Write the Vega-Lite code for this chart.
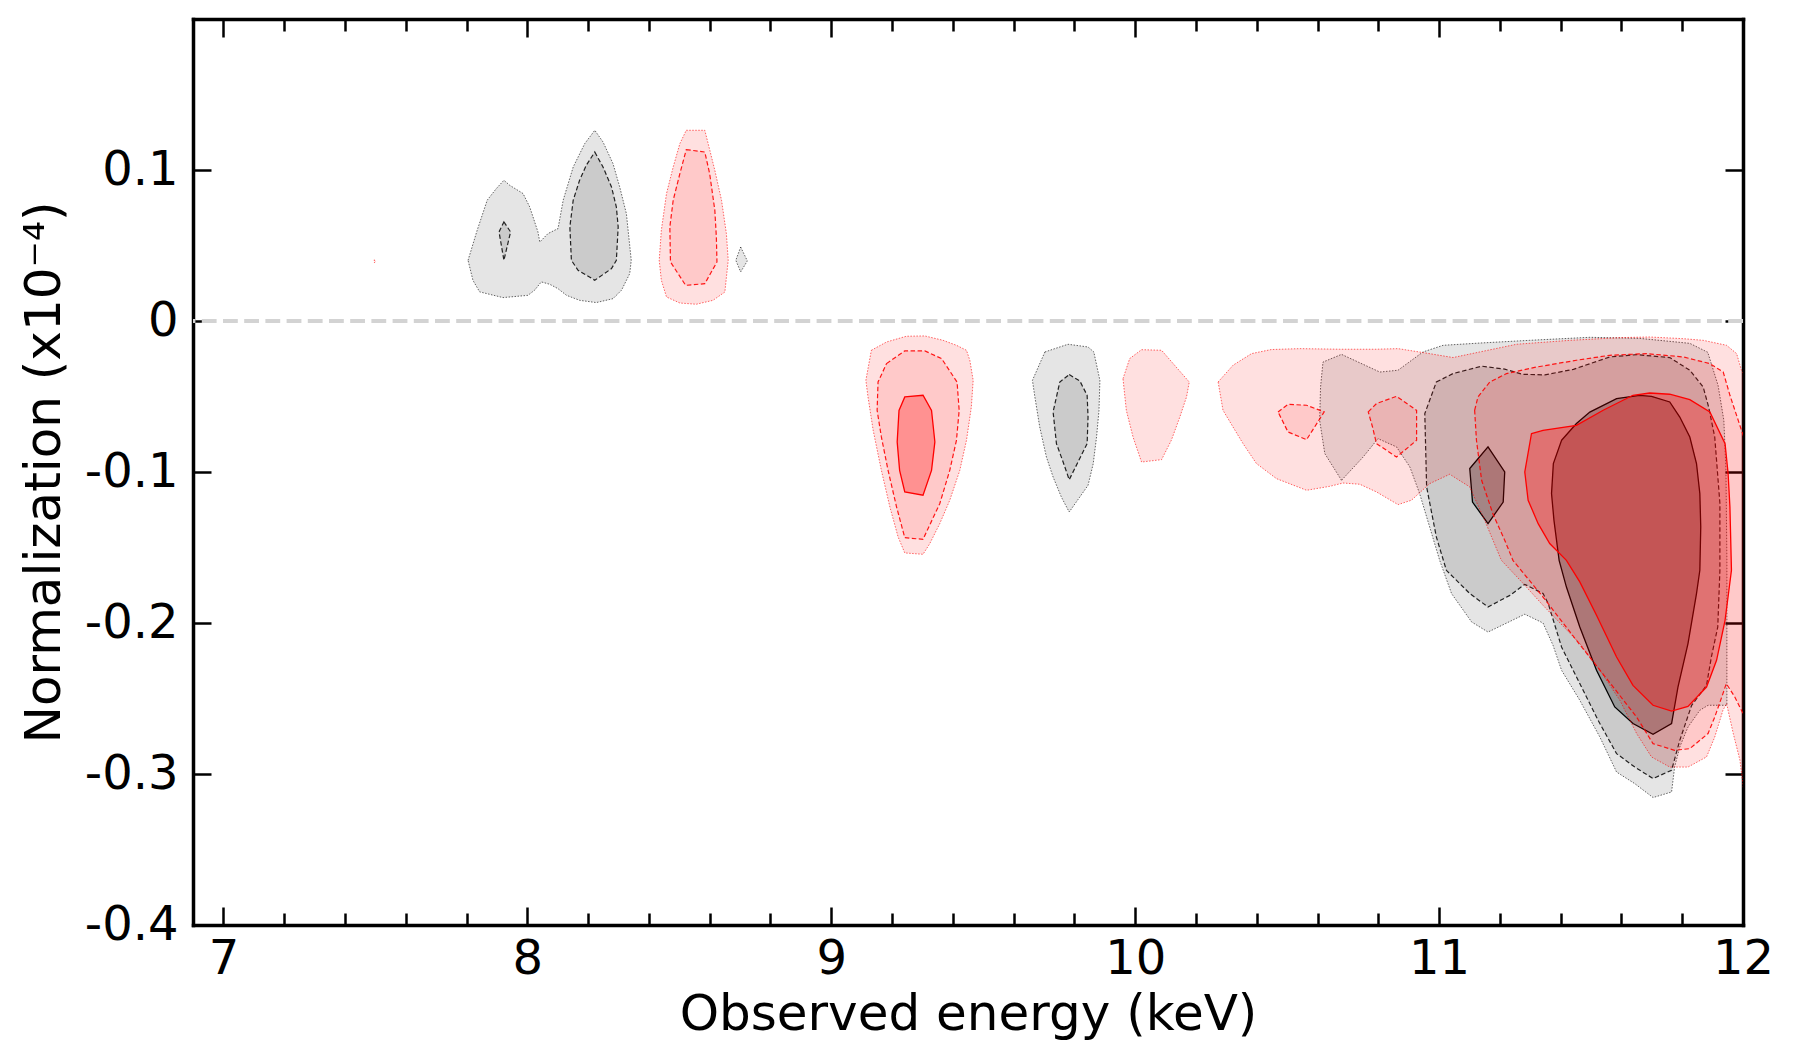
{
"$schema": "https://vega.github.io/schema/vega-lite/v6.json",
"width": 1550, "height": 906,
"autosize": {"type": "none"},
"padding": {"left": 193, "top": 19, "right": 52, "bottom": 137},
"background": "white",
"config": {
  "view": {"stroke": null},
  "font": "DejaVu Sans",
  "axis": {"labelFont": "DejaVu Sans", "titleFont": "DejaVu Sans", "labelFontSize": 48, "titleFontSize": 50,
    "labelColor": "black", "titleColor": "black", "titleFontWeight": "normal", "domainColor": "black",
    "tickColor": "black", "grid": false, "zindex": 1, "domainWidth": 3.5, "tickWidth": 2.5, "domainCap": "square",
    "labelFlush": false, "labelOverlap": false}
},
"data": {"values": [
{"group":"GO","poly":"g1a","k":1,"x":7.805,"y":0.0402},{"group":"GO","poly":"g1a","k":2,"x":7.835,"y":0.0601},{"group":"GO","poly":"g1a","k":3,"x":7.868,"y":0.0800},{"group":"GO","poly":"g1a","k":4,"x":7.898,"y":0.0877},{"group":"GO","poly":"g1a","k":5,"x":7.923,"y":0.0932},{"group":"GO","poly":"g1a","k":6,"x":7.942,"y":0.0899},{"group":"GO","poly":"g1a","k":7,"x":7.986,"y":0.0844},{"group":"GO","poly":"g1a","k":8,"x":8.008,"y":0.0755},{"group":"GO","poly":"g1a","k":9,"x":8.035,"y":0.0590},{"group":"GO","poly":"g1a","k":10,"x":8.041,"y":0.0523},{"group":"GO","poly":"g1a","k":11,"x":8.068,"y":0.0579},{"group":"GO","poly":"g1a","k":12,"x":8.101,"y":0.0612},{"group":"GO","poly":"g1a","k":13,"x":8.118,"y":0.0800},{"group":"GO","poly":"g1a","k":14,"x":8.151,"y":0.1020},{"group":"GO","poly":"g1a","k":15,"x":8.189,"y":0.1175},{"group":"GO","poly":"g1a","k":16,"x":8.222,"y":0.1263},{"group":"GO","poly":"g1a","k":17,"x":8.249,"y":0.1186},{"group":"GO","poly":"g1a","k":18,"x":8.282,"y":0.1042},{"group":"GO","poly":"g1a","k":19,"x":8.304,"y":0.0888},{"group":"GO","poly":"g1a","k":20,"x":8.326,"y":0.0711},{"group":"GO","poly":"g1a","k":21,"x":8.342,"y":0.0402},{"group":"GO","poly":"g1a","k":22,"x":8.337,"y":0.0314},{"group":"GO","poly":"g1a","k":23,"x":8.310,"y":0.0204},{"group":"GO","poly":"g1a","k":24,"x":8.282,"y":0.0148},{"group":"GO","poly":"g1a","k":25,"x":8.227,"y":0.0122},{"group":"GO","poly":"g1a","k":26,"x":8.172,"y":0.0137},{"group":"GO","poly":"g1a","k":27,"x":8.129,"y":0.0170},{"group":"GO","poly":"g1a","k":28,"x":8.101,"y":0.0214},{"group":"GO","poly":"g1a","k":29,"x":8.074,"y":0.0243},{"group":"GO","poly":"g1a","k":30,"x":8.046,"y":0.0259},{"group":"GO","poly":"g1a","k":31,"x":8.024,"y":0.0204},{"group":"GO","poly":"g1a","k":32,"x":8.002,"y":0.0170},{"group":"GO","poly":"g1a","k":33,"x":7.920,"y":0.0155},{"group":"GO","poly":"g1a","k":34,"x":7.843,"y":0.0193},{"group":"GO","poly":"g1a","k":35,"x":7.821,"y":0.0270},
{"group":"GO","poly":"g1e","k":1,"x":8.702,"y":0.0490},{"group":"GO","poly":"g1e","k":2,"x":8.724,"y":0.0398},{"group":"GO","poly":"g1e","k":3,"x":8.702,"y":0.0325},{"group":"GO","poly":"g1e","k":4,"x":8.686,"y":0.0402},
{"group":"GO","poly":"g1i","k":1,"x":9.703,"y":-0.0205},{"group":"GO","poly":"g1i","k":2,"x":9.779,"y":-0.0154},{"group":"GO","poly":"g1i","k":3,"x":9.845,"y":-0.0172},{"group":"GO","poly":"g1i","k":4,"x":9.864,"y":-0.0205},{"group":"GO","poly":"g1i","k":5,"x":9.884,"y":-0.0393},{"group":"GO","poly":"g1i","k":6,"x":9.881,"y":-0.0592},{"group":"GO","poly":"g1i","k":7,"x":9.873,"y":-0.0768},{"group":"GO","poly":"g1i","k":8,"x":9.862,"y":-0.0945},{"group":"GO","poly":"g1i","k":9,"x":9.845,"y":-0.1088},{"group":"GO","poly":"g1i","k":10,"x":9.783,"y":-0.1265},{"group":"GO","poly":"g1i","k":11,"x":9.757,"y":-0.1165},{"group":"GO","poly":"g1i","k":12,"x":9.730,"y":-0.1033},{"group":"GO","poly":"g1i","k":13,"x":9.708,"y":-0.0901},{"group":"GO","poly":"g1i","k":14,"x":9.686,"y":-0.0702},{"group":"GO","poly":"g1i","k":15,"x":9.670,"y":-0.0503},{"group":"GO","poly":"g1i","k":16,"x":9.662,"y":-0.0393},
{"group":"GO","poly":"g1big","k":1,"x":10.679,"y":-0.1055},{"group":"GO","poly":"g1big","k":2,"x":10.624,"y":-0.0878},{"group":"GO","poly":"g1big","k":3,"x":10.607,"y":-0.0658},{"group":"GO","poly":"g1big","k":4,"x":10.610,"y":-0.0437},{"group":"GO","poly":"g1big","k":5,"x":10.618,"y":-0.0272},{"group":"GO","poly":"g1big","k":6,"x":10.679,"y":-0.0221},{"group":"GO","poly":"g1big","k":7,"x":10.805,"y":-0.0338},{"group":"GO","poly":"g1big","k":8,"x":10.865,"y":-0.0326},{"group":"GO","poly":"g1big","k":9,"x":10.947,"y":-0.0205},{"group":"GO","poly":"g1big","k":10,"x":11.013,"y":-0.0161},{"group":"GO","poly":"g1big","k":11,"x":11.134,"y":-0.0146},{"group":"GO","poly":"g1big","k":12,"x":11.298,"y":-0.0128},{"group":"GO","poly":"g1big","k":13,"x":11.496,"y":-0.0108},{"group":"GO","poly":"g1big","k":14,"x":11.660,"y":-0.0115},{"group":"GO","poly":"g1big","k":15,"x":11.825,"y":-0.0148},{"group":"GO","poly":"g1big","k":16,"x":11.884,"y":-0.0207},{"group":"GO","poly":"g1big","k":17,"x":11.918,"y":-0.0426},{"group":"GO","poly":"g1big","k":18,"x":11.937,"y":-0.0658},{"group":"GO","poly":"g1big","k":19,"x":11.944,"y":-0.0988},{"group":"GO","poly":"g1big","k":20,"x":11.947,"y":-0.1585},{"group":"GO","poly":"g1big","k":21,"x":11.947,"y":-0.2545},{"group":"GO","poly":"g1big","k":22,"x":11.885,"y":-0.2545},{"group":"GO","poly":"g1big","k":23,"x":11.858,"y":-0.2578},{"group":"GO","poly":"g1big","k":24,"x":11.819,"y":-0.2689},{"group":"GO","poly":"g1big","k":25,"x":11.792,"y":-0.2821},{"group":"GO","poly":"g1big","k":26,"x":11.775,"y":-0.2954},{"group":"GO","poly":"g1big","k":27,"x":11.765,"y":-0.3119},{"group":"GO","poly":"g1big","k":28,"x":11.704,"y":-0.3156},{"group":"GO","poly":"g1big","k":29,"x":11.644,"y":-0.3064},{"group":"GO","poly":"g1big","k":30,"x":11.584,"y":-0.2987},{"group":"GO","poly":"g1big","k":31,"x":11.529,"y":-0.2755},{"group":"GO","poly":"g1big","k":32,"x":11.463,"y":-0.2512},{"group":"GO","poly":"g1big","k":33,"x":11.403,"y":-0.2313},{"group":"GO","poly":"g1big","k":34,"x":11.375,"y":-0.2148},{"group":"GO","poly":"g1big","k":35,"x":11.342,"y":-0.2000},{"group":"GO","poly":"g1big","k":36,"x":11.282,"y":-0.1942},{"group":"GO","poly":"g1big","k":37,"x":11.161,"y":-0.2060},{"group":"GO","poly":"g1big","k":38,"x":11.107,"y":-0.1993},{"group":"GO","poly":"g1big","k":39,"x":11.041,"y":-0.1805},{"group":"GO","poly":"g1big","k":40,"x":11.002,"y":-0.1585},{"group":"GO","poly":"g1big","k":41,"x":10.969,"y":-0.1364},{"group":"GO","poly":"g1big","k":42,"x":10.936,"y":-0.1143},{"group":"GO","poly":"g1big","k":43,"x":10.904,"y":-0.0967},{"group":"GO","poly":"g1big","k":44,"x":10.860,"y":-0.0834},{"group":"GO","poly":"g1big","k":45,"x":10.799,"y":-0.0779},{"group":"GO","poly":"g1big","k":46,"x":10.750,"y":-0.0901},
{"group":"GM","poly":"g2a","k":1,"x":7.923,"y":0.0656},{"group":"GM","poly":"g2a","k":2,"x":7.945,"y":0.0590},{"group":"GM","poly":"g2a","k":3,"x":7.923,"y":0.0402},{"group":"GM","poly":"g2a","k":4,"x":7.907,"y":0.0590},
{"group":"GM","poly":"g2b","k":1,"x":8.222,"y":0.1119},{"group":"GM","poly":"g2b","k":2,"x":8.249,"y":0.1020},{"group":"GM","poly":"g2b","k":3,"x":8.277,"y":0.0888},{"group":"GM","poly":"g2b","k":4,"x":8.293,"y":0.0755},{"group":"GM","poly":"g2b","k":5,"x":8.299,"y":0.0623},{"group":"GM","poly":"g2b","k":6,"x":8.293,"y":0.0402},{"group":"GM","poly":"g2b","k":7,"x":8.277,"y":0.0347},{"group":"GM","poly":"g2b","k":8,"x":8.222,"y":0.0270},{"group":"GM","poly":"g2b","k":9,"x":8.167,"y":0.0336},{"group":"GM","poly":"g2b","k":10,"x":8.145,"y":0.0402},{"group":"GM","poly":"g2b","k":11,"x":8.140,"y":0.0623},{"group":"GM","poly":"g2b","k":12,"x":8.151,"y":0.0800},{"group":"GM","poly":"g2b","k":13,"x":8.172,"y":0.0932},{"group":"GM","poly":"g2b","k":14,"x":8.194,"y":0.1031},
{"group":"GM","poly":"g2j","k":1,"x":9.783,"y":-0.0355},{"group":"GM","poly":"g2j","k":2,"x":9.818,"y":-0.0397},{"group":"GM","poly":"g2j","k":3,"x":9.842,"y":-0.0492},{"group":"GM","poly":"g2j","k":4,"x":9.845,"y":-0.0636},{"group":"GM","poly":"g2j","k":5,"x":9.842,"y":-0.0812},{"group":"GM","poly":"g2j","k":6,"x":9.812,"y":-0.0934},{"group":"GM","poly":"g2j","k":7,"x":9.783,"y":-0.1051},{"group":"GM","poly":"g2j","k":8,"x":9.763,"y":-0.0934},{"group":"GM","poly":"g2j","k":9,"x":9.741,"y":-0.0812},{"group":"GM","poly":"g2j","k":10,"x":9.730,"y":-0.0602},{"group":"GM","poly":"g2j","k":11,"x":9.752,"y":-0.0404},
{"group":"GM","poly":"g2big","k":1,"x":10.991,"y":-0.0404},{"group":"GM","poly":"g2big","k":2,"x":11.046,"y":-0.0348},{"group":"GM","poly":"g2big","k":3,"x":11.140,"y":-0.0299},{"group":"GM","poly":"g2big","k":4,"x":11.216,"y":-0.0319},{"group":"GM","poly":"g2big","k":5,"x":11.275,"y":-0.0353},{"group":"GM","poly":"g2big","k":6,"x":11.348,"y":-0.0357},{"group":"GM","poly":"g2big","k":7,"x":11.442,"y":-0.0320},{"group":"GM","poly":"g2big","k":8,"x":11.562,"y":-0.0238},{"group":"GM","poly":"g2big","k":9,"x":11.650,"y":-0.0223},{"group":"GM","poly":"g2big","k":10,"x":11.759,"y":-0.0242},{"group":"GM","poly":"g2big","k":11,"x":11.825,"y":-0.0326},{"group":"GM","poly":"g2big","k":12,"x":11.869,"y":-0.0437},{"group":"GM","poly":"g2big","k":13,"x":11.887,"y":-0.0570},{"group":"GM","poly":"g2big","k":14,"x":11.907,"y":-0.0768},{"group":"GM","poly":"g2big","k":15,"x":11.924,"y":-0.1207},{"group":"GM","poly":"g2big","k":16,"x":11.924,"y":-0.1651},{"group":"GM","poly":"g2big","k":17,"x":11.917,"y":-0.2026},{"group":"GM","poly":"g2big","k":18,"x":11.896,"y":-0.2225},{"group":"GM","poly":"g2big","k":19,"x":11.880,"y":-0.2413},{"group":"GM","poly":"g2big","k":20,"x":11.831,"y":-0.2545},{"group":"GM","poly":"g2big","k":21,"x":11.792,"y":-0.2777},{"group":"GM","poly":"g2big","k":22,"x":11.765,"y":-0.2975},{"group":"GM","poly":"g2big","k":23,"x":11.704,"y":-0.3030},{"group":"GM","poly":"g2big","k":24,"x":11.644,"y":-0.2954},{"group":"GM","poly":"g2big","k":25,"x":11.584,"y":-0.2865},{"group":"GM","poly":"g2big","k":26,"x":11.523,"y":-0.2644},{"group":"GM","poly":"g2big","k":27,"x":11.463,"y":-0.2401},{"group":"GM","poly":"g2big","k":28,"x":11.403,"y":-0.2159},{"group":"GM","poly":"g2big","k":29,"x":11.359,"y":-0.1871},{"group":"GM","poly":"g2big","k":30,"x":11.342,"y":-0.1805},{"group":"GM","poly":"g2big","k":31,"x":11.282,"y":-0.1744},{"group":"GM","poly":"g2big","k":32,"x":11.233,"y":-0.1817},{"group":"GM","poly":"g2big","k":33,"x":11.161,"y":-0.1894},{"group":"GM","poly":"g2big","k":34,"x":11.101,"y":-0.1805},{"group":"GM","poly":"g2big","k":35,"x":11.024,"y":-0.1651},{"group":"GM","poly":"g2big","k":36,"x":10.991,"y":-0.1430},{"group":"GM","poly":"g2big","k":37,"x":10.959,"y":-0.1099},{"group":"GM","poly":"g2big","k":38,"x":10.953,"y":-0.0613},
{"group":"GI","poly":"g3a","k":1,"x":11.161,"y":-0.0834},{"group":"GI","poly":"g3a","k":2,"x":11.216,"y":-0.1000},{"group":"GI","poly":"g3a","k":3,"x":11.211,"y":-0.1199},{"group":"GI","poly":"g3a","k":4,"x":11.161,"y":-0.1342},{"group":"GI","poly":"g3a","k":5,"x":11.110,"y":-0.1199},{"group":"GI","poly":"g3a","k":6,"x":11.101,"y":-0.0977},
{"group":"GI","poly":"g3big","k":1,"x":11.403,"y":-0.0790},{"group":"GI","poly":"g3big","k":2,"x":11.452,"y":-0.0679},{"group":"GI","poly":"g3big","k":3,"x":11.496,"y":-0.0603},{"group":"GI","poly":"g3big","k":4,"x":11.584,"y":-0.0514},{"group":"GI","poly":"g3big","k":5,"x":11.660,"y":-0.0492},{"group":"GI","poly":"g3big","k":6,"x":11.699,"y":-0.0499},{"group":"GI","poly":"g3big","k":7,"x":11.759,"y":-0.0536},{"group":"GI","poly":"g3big","k":8,"x":11.792,"y":-0.0636},{"group":"GI","poly":"g3big","k":9,"x":11.825,"y":-0.0768},{"group":"GI","poly":"g3big","k":10,"x":11.847,"y":-0.0944},{"group":"GI","poly":"g3big","k":11,"x":11.858,"y":-0.1143},{"group":"GI","poly":"g3big","k":12,"x":11.861,"y":-0.1364},{"group":"GI","poly":"g3big","k":13,"x":11.858,"y":-0.1651},{"group":"GI","poly":"g3big","k":14,"x":11.847,"y":-0.1805},{"group":"GI","poly":"g3big","k":15,"x":11.819,"y":-0.2136},{"group":"GI","poly":"g3big","k":16,"x":11.786,"y":-0.2424},{"group":"GI","poly":"g3big","k":17,"x":11.765,"y":-0.2666},{"group":"GI","poly":"g3big","k":18,"x":11.704,"y":-0.2737},{"group":"GI","poly":"g3big","k":19,"x":11.638,"y":-0.2666},{"group":"GI","poly":"g3big","k":20,"x":11.578,"y":-0.2556},{"group":"GI","poly":"g3big","k":21,"x":11.518,"y":-0.2313},{"group":"GI","poly":"g3big","k":22,"x":11.463,"y":-0.2026},{"group":"GI","poly":"g3big","k":23,"x":11.419,"y":-0.1762},{"group":"GI","poly":"g3big","k":24,"x":11.395,"y":-0.1585},{"group":"GI","poly":"g3big","k":25,"x":11.378,"y":-0.1320},{"group":"GI","poly":"g3big","k":26,"x":11.370,"y":-0.1143},{"group":"GI","poly":"g3big","k":27,"x":11.376,"y":-0.0944},
{"group":"RO","poly":"r1t","k":1,"x":7.496,"y":0.0405},{"group":"RO","poly":"r1t","k":2,"x":7.501,"y":0.0396},{"group":"RO","poly":"r1t","k":3,"x":7.497,"y":0.0386},
{"group":"RO","poly":"r1c","k":1,"x":8.523,"y":0.1263},{"group":"RO","poly":"r1c","k":2,"x":8.584,"y":0.1263},{"group":"RO","poly":"r1c","k":3,"x":8.595,"y":0.1175},{"group":"RO","poly":"r1c","k":4,"x":8.617,"y":0.0998},{"group":"RO","poly":"r1c","k":5,"x":8.639,"y":0.0800},{"group":"RO","poly":"r1c","k":6,"x":8.655,"y":0.0579},{"group":"RO","poly":"r1c","k":7,"x":8.661,"y":0.0402},{"group":"RO","poly":"r1c","k":8,"x":8.650,"y":0.0192},{"group":"RO","poly":"r1c","k":9,"x":8.611,"y":0.0137},{"group":"RO","poly":"r1c","k":10,"x":8.556,"y":0.0111},{"group":"RO","poly":"r1c","k":11,"x":8.502,"y":0.0119},{"group":"RO","poly":"r1c","k":12,"x":8.458,"y":0.0159},{"group":"RO","poly":"r1c","k":13,"x":8.441,"y":0.0270},{"group":"RO","poly":"r1c","k":14,"x":8.434,"y":0.0402},{"group":"RO","poly":"r1c","k":15,"x":8.441,"y":0.0601},{"group":"RO","poly":"r1c","k":16,"x":8.458,"y":0.0844},{"group":"RO","poly":"r1c","k":17,"x":8.480,"y":0.1020},{"group":"RO","poly":"r1c","k":18,"x":8.502,"y":0.1175},
{"group":"RO","poly":"r1f","k":1,"x":9.132,"y":-0.0194},{"group":"RO","poly":"r1f","k":2,"x":9.182,"y":-0.0139},{"group":"RO","poly":"r1f","k":3,"x":9.247,"y":-0.0101},{"group":"RO","poly":"r1f","k":4,"x":9.308,"y":-0.0099},{"group":"RO","poly":"r1f","k":5,"x":9.368,"y":-0.0128},{"group":"RO","poly":"r1f","k":6,"x":9.412,"y":-0.0161},{"group":"RO","poly":"r1f","k":7,"x":9.445,"y":-0.0194},{"group":"RO","poly":"r1f","k":8,"x":9.456,"y":-0.0260},{"group":"RO","poly":"r1f","k":9,"x":9.467,"y":-0.0393},{"group":"RO","poly":"r1f","k":10,"x":9.461,"y":-0.0569},{"group":"RO","poly":"r1f","k":11,"x":9.445,"y":-0.0790},{"group":"RO","poly":"r1f","k":12,"x":9.423,"y":-0.0989},{"group":"RO","poly":"r1f","k":13,"x":9.390,"y":-0.1187},{"group":"RO","poly":"r1f","k":14,"x":9.357,"y":-0.1342},{"group":"RO","poly":"r1f","k":15,"x":9.324,"y":-0.1475},{"group":"RO","poly":"r1f","k":16,"x":9.302,"y":-0.1545},{"group":"RO","poly":"r1f","k":17,"x":9.242,"y":-0.1536},{"group":"RO","poly":"r1f","k":18,"x":9.220,"y":-0.1430},{"group":"RO","poly":"r1f","k":19,"x":9.193,"y":-0.1232},{"group":"RO","poly":"r1f","k":20,"x":9.165,"y":-0.0989},{"group":"RO","poly":"r1f","k":21,"x":9.138,"y":-0.0724},{"group":"RO","poly":"r1f","k":22,"x":9.121,"y":-0.0503},{"group":"RO","poly":"r1f","k":23,"x":9.114,"y":-0.0393},
{"group":"RO","poly":"r1k","k":1,"x":9.960,"y":-0.0382},{"group":"RO","poly":"r1k","k":2,"x":9.982,"y":-0.0249},{"group":"RO","poly":"r1k","k":3,"x":10.021,"y":-0.0190},{"group":"RO","poly":"r1k","k":4,"x":10.087,"y":-0.0194},{"group":"RO","poly":"r1k","k":5,"x":10.125,"y":-0.0282},{"group":"RO","poly":"r1k","k":6,"x":10.178,"y":-0.0404},{"group":"RO","poly":"r1k","k":7,"x":10.169,"y":-0.0503},{"group":"RO","poly":"r1k","k":8,"x":10.147,"y":-0.0636},{"group":"RO","poly":"r1k","k":9,"x":10.119,"y":-0.0790},{"group":"RO","poly":"r1k","k":10,"x":10.087,"y":-0.0918},{"group":"RO","poly":"r1k","k":11,"x":10.021,"y":-0.0934},{"group":"RO","poly":"r1k","k":12,"x":9.993,"y":-0.0768},{"group":"RO","poly":"r1k","k":13,"x":9.971,"y":-0.0592},
{"group":"RO","poly":"r1big","k":1,"x":10.273,"y":-0.0404},{"group":"RO","poly":"r1big","k":2,"x":10.322,"y":-0.0293},{"group":"RO","poly":"r1big","k":3,"x":10.383,"y":-0.0216},{"group":"RO","poly":"r1big","k":4,"x":10.448,"y":-0.0189},{"group":"RO","poly":"r1big","k":5,"x":10.542,"y":-0.0183},{"group":"RO","poly":"r1big","k":6,"x":10.673,"y":-0.0187},{"group":"RO","poly":"r1big","k":7,"x":10.794,"y":-0.0187},{"group":"RO","poly":"r1big","k":8,"x":10.865,"y":-0.0183},{"group":"RO","poly":"r1big","k":9,"x":10.947,"y":-0.0209},{"group":"RO","poly":"r1big","k":10,"x":11.046,"y":-0.0242},{"group":"RO","poly":"r1big","k":11,"x":11.134,"y":-0.0205},{"group":"RO","poly":"r1big","k":12,"x":11.255,"y":-0.0154},{"group":"RO","poly":"r1big","k":13,"x":11.430,"y":-0.0128},{"group":"RO","poly":"r1big","k":14,"x":11.595,"y":-0.0110},{"group":"RO","poly":"r1big","k":15,"x":11.693,"y":-0.0106},{"group":"RO","poly":"r1big","k":16,"x":11.803,"y":-0.0117},{"group":"RO","poly":"r1big","k":17,"x":11.869,"y":-0.0128},{"group":"RO","poly":"r1big","k":18,"x":11.946,"y":-0.0161},{"group":"RO","poly":"r1big","k":19,"x":11.979,"y":-0.0216},{"group":"RO","poly":"r1big","k":20,"x":11.995,"y":-0.0326},{"group":"RO","poly":"r1big","k":21,"x":12.055,"y":-0.0525},{"group":"RO","poly":"r1big","k":22,"x":12.055,"y":-0.3240},{"group":"RO","poly":"r1big","k":23,"x":12.006,"y":-0.3174},{"group":"RO","poly":"r1big","k":24,"x":11.990,"y":-0.2909},{"group":"RO","poly":"r1big","k":25,"x":11.968,"y":-0.2732},{"group":"RO","poly":"r1big","k":26,"x":11.946,"y":-0.2534},{"group":"RO","poly":"r1big","k":27,"x":11.934,"y":-0.2578},{"group":"RO","poly":"r1big","k":28,"x":11.907,"y":-0.2755},{"group":"RO","poly":"r1big","k":29,"x":11.880,"y":-0.2887},{"group":"RO","poly":"r1big","k":30,"x":11.819,"y":-0.2954},{"group":"RO","poly":"r1big","k":31,"x":11.759,"y":-0.2954},{"group":"RO","poly":"r1big","k":32,"x":11.699,"y":-0.2887},{"group":"RO","poly":"r1big","k":33,"x":11.650,"y":-0.2732},{"group":"RO","poly":"r1big","k":34,"x":11.595,"y":-0.2512},{"group":"RO","poly":"r1big","k":35,"x":11.529,"y":-0.2313},{"group":"RO","poly":"r1big","k":36,"x":11.463,"y":-0.2136},{"group":"RO","poly":"r1big","k":37,"x":11.342,"y":-0.1883},{"group":"RO","poly":"r1big","k":38,"x":11.277,"y":-0.1739},{"group":"RO","poly":"r1big","k":39,"x":11.205,"y":-0.1585},{"group":"RO","poly":"r1big","k":40,"x":11.150,"y":-0.1320},{"group":"RO","poly":"r1big","k":41,"x":11.101,"y":-0.1099},{"group":"RO","poly":"r1big","k":42,"x":11.035,"y":-0.1015},{"group":"RO","poly":"r1big","k":43,"x":10.969,"y":-0.1077},{"group":"RO","poly":"r1big","k":44,"x":10.909,"y":-0.1187},{"group":"RO","poly":"r1big","k":45,"x":10.865,"y":-0.1216},{"group":"RO","poly":"r1big","k":46,"x":10.794,"y":-0.1132},{"group":"RO","poly":"r1big","k":47,"x":10.739,"y":-0.1081},{"group":"RO","poly":"r1big","k":48,"x":10.684,"y":-0.1073},{"group":"RO","poly":"r1big","k":49,"x":10.640,"y":-0.1095},{"group":"RO","poly":"r1big","k":50,"x":10.564,"y":-0.1121},{"group":"RO","poly":"r1big","k":51,"x":10.465,"y":-0.1044},{"group":"RO","poly":"r1big","k":52,"x":10.399,"y":-0.0944},{"group":"RO","poly":"r1big","k":53,"x":10.355,"y":-0.0812},{"group":"RO","poly":"r1big","k":54,"x":10.322,"y":-0.0702},{"group":"RO","poly":"r1big","k":55,"x":10.289,"y":-0.0591},
{"group":"RM","poly":"r2d","k":1,"x":8.523,"y":0.1135},{"group":"RM","poly":"r2d","k":2,"x":8.584,"y":0.1119},{"group":"RM","poly":"r2d","k":3,"x":8.600,"y":0.0976},{"group":"RM","poly":"r2d","k":4,"x":8.617,"y":0.0733},{"group":"RM","poly":"r2d","k":5,"x":8.622,"y":0.0557},{"group":"RM","poly":"r2d","k":6,"x":8.624,"y":0.0391},{"group":"RM","poly":"r2d","k":7,"x":8.584,"y":0.0247},{"group":"RM","poly":"r2d","k":8,"x":8.521,"y":0.0236},{"group":"RM","poly":"r2d","k":9,"x":8.471,"y":0.0391},{"group":"RM","poly":"r2d","k":10,"x":8.469,"y":0.0623},{"group":"RM","poly":"r2d","k":11,"x":8.480,"y":0.0800},{"group":"RM","poly":"r2d","k":12,"x":8.502,"y":0.0976},
{"group":"RM","poly":"r2g","k":1,"x":9.182,"y":-0.0282},{"group":"RM","poly":"r2g","k":2,"x":9.242,"y":-0.0198},{"group":"RM","poly":"r2g","k":3,"x":9.308,"y":-0.0198},{"group":"RM","poly":"r2g","k":4,"x":9.363,"y":-0.0249},{"group":"RM","poly":"r2g","k":5,"x":9.414,"y":-0.0404},{"group":"RM","poly":"r2g","k":6,"x":9.421,"y":-0.0592},{"group":"RM","poly":"r2g","k":7,"x":9.412,"y":-0.0790},{"group":"RM","poly":"r2g","k":8,"x":9.390,"y":-0.0989},{"group":"RM","poly":"r2g","k":9,"x":9.357,"y":-0.1210},{"group":"RM","poly":"r2g","k":10,"x":9.302,"y":-0.1446},{"group":"RM","poly":"r2g","k":11,"x":9.242,"y":-0.1435},{"group":"RM","poly":"r2g","k":12,"x":9.215,"y":-0.1232},{"group":"RM","poly":"r2g","k":13,"x":9.187,"y":-0.0989},{"group":"RM","poly":"r2g","k":14,"x":9.165,"y":-0.0768},{"group":"RM","poly":"r2g","k":15,"x":9.151,"y":-0.0592},{"group":"RM","poly":"r2g","k":16,"x":9.154,"y":-0.0404},
{"group":"RM","poly":"r2a","k":1,"x":10.470,"y":-0.0602},{"group":"RM","poly":"r2a","k":2,"x":10.503,"y":-0.0552},{"group":"RM","poly":"r2a","k":3,"x":10.564,"y":-0.0558},{"group":"RM","poly":"r2a","k":4,"x":10.622,"y":-0.0602},{"group":"RM","poly":"r2a","k":5,"x":10.564,"y":-0.0786},{"group":"RM","poly":"r2a","k":6,"x":10.503,"y":-0.0735},
{"group":"RM","poly":"r2b","k":1,"x":10.767,"y":-0.0602},{"group":"RM","poly":"r2b","k":2,"x":10.794,"y":-0.0547},{"group":"RM","poly":"r2b","k":3,"x":10.860,"y":-0.0499},{"group":"RM","poly":"r2b","k":4,"x":10.926,"y":-0.0592},{"group":"RM","poly":"r2b","k":5,"x":10.926,"y":-0.0790},{"group":"RM","poly":"r2b","k":6,"x":10.860,"y":-0.0901},{"group":"RM","poly":"r2b","k":7,"x":10.794,"y":-0.0812},{"group":"RM","poly":"r2b","k":8,"x":10.781,"y":-0.0702},
{"group":"RM","poly":"r2big","k":1,"x":11.117,"y":-0.0591},{"group":"RM","poly":"r2big","k":2,"x":11.128,"y":-0.0503},{"group":"RM","poly":"r2big","k":3,"x":11.167,"y":-0.0404},{"group":"RM","poly":"r2big","k":4,"x":11.222,"y":-0.0348},{"group":"RM","poly":"r2big","k":5,"x":11.320,"y":-0.0305},{"group":"RM","poly":"r2big","k":6,"x":11.452,"y":-0.0260},{"group":"RM","poly":"r2big","k":7,"x":11.562,"y":-0.0227},{"group":"RM","poly":"r2big","k":8,"x":11.682,"y":-0.0216},{"group":"RM","poly":"r2big","k":9,"x":11.803,"y":-0.0238},{"group":"RM","poly":"r2big","k":10,"x":11.891,"y":-0.0282},{"group":"RM","poly":"r2big","k":11,"x":11.935,"y":-0.0338},{"group":"RM","poly":"r2big","k":12,"x":11.957,"y":-0.0492},{"group":"RM","poly":"r2big","k":13,"x":12.006,"y":-0.0790},{"group":"RM","poly":"r2big","k":14,"x":12.055,"y":-0.0790},{"group":"RM","poly":"r2big","k":15,"x":12.055,"y":-0.2644},{"group":"RM","poly":"r2big","k":16,"x":12.000,"y":-0.2600},{"group":"RM","poly":"r2big","k":17,"x":11.973,"y":-0.2490},{"group":"RM","poly":"r2big","k":18,"x":11.945,"y":-0.2401},{"group":"RM","poly":"r2big","k":19,"x":11.934,"y":-0.2468},{"group":"RM","poly":"r2big","k":20,"x":11.907,"y":-0.2623},{"group":"RM","poly":"r2big","k":21,"x":11.885,"y":-0.2732},{"group":"RM","poly":"r2big","k":22,"x":11.825,"y":-0.2832},{"group":"RM","poly":"r2big","k":23,"x":11.775,"y":-0.2843},{"group":"RM","poly":"r2big","k":24,"x":11.704,"y":-0.2799},{"group":"RM","poly":"r2big","k":25,"x":11.650,"y":-0.2623},{"group":"RM","poly":"r2big","k":26,"x":11.573,"y":-0.2424},{"group":"RM","poly":"r2big","k":27,"x":11.452,"y":-0.2115},{"group":"RM","poly":"r2big","k":28,"x":11.342,"y":-0.1828},{"group":"RM","poly":"r2big","k":29,"x":11.243,"y":-0.1585},{"group":"RM","poly":"r2big","k":30,"x":11.216,"y":-0.1452},{"group":"RM","poly":"r2big","k":31,"x":11.178,"y":-0.1282},{"group":"RM","poly":"r2big","k":32,"x":11.140,"y":-0.1055},{"group":"RM","poly":"r2big","k":33,"x":11.123,"y":-0.0790},
{"group":"RI","poly":"r3h","k":1,"x":9.242,"y":-0.0503},{"group":"RI","poly":"r3h","k":2,"x":9.302,"y":-0.0492},{"group":"RI","poly":"r3h","k":3,"x":9.330,"y":-0.0592},{"group":"RI","poly":"r3h","k":4,"x":9.341,"y":-0.0801},{"group":"RI","poly":"r3h","k":5,"x":9.330,"y":-0.0989},{"group":"RI","poly":"r3h","k":6,"x":9.302,"y":-0.1154},{"group":"RI","poly":"r3h","k":7,"x":9.242,"y":-0.1132},{"group":"RI","poly":"r3h","k":8,"x":9.225,"y":-0.0989},{"group":"RI","poly":"r3h","k":9,"x":9.217,"y":-0.0801},{"group":"RI","poly":"r3h","k":10,"x":9.223,"y":-0.0592},
{"group":"RI","poly":"r3big","k":1,"x":11.304,"y":-0.0746},{"group":"RI","poly":"r3big","k":2,"x":11.342,"y":-0.0724},{"group":"RI","poly":"r3big","k":3,"x":11.452,"y":-0.0691},{"group":"RI","poly":"r3big","k":4,"x":11.540,"y":-0.0591},{"group":"RI","poly":"r3big","k":5,"x":11.638,"y":-0.0492},{"group":"RI","poly":"r3big","k":6,"x":11.693,"y":-0.0477},{"group":"RI","poly":"r3big","k":7,"x":11.759,"y":-0.0485},{"group":"RI","poly":"r3big","k":8,"x":11.825,"y":-0.0521},{"group":"RI","poly":"r3big","k":9,"x":11.891,"y":-0.0603},{"group":"RI","poly":"r3big","k":10,"x":11.941,"y":-0.0812},{"group":"RI","poly":"r3big","k":11,"x":11.951,"y":-0.1011},{"group":"RI","poly":"r3big","k":12,"x":11.957,"y":-0.1232},{"group":"RI","poly":"r3big","k":13,"x":11.962,"y":-0.1651},{"group":"RI","poly":"r3big","k":14,"x":11.941,"y":-0.1982},{"group":"RI","poly":"r3big","k":15,"x":11.913,"y":-0.2247},{"group":"RI","poly":"r3big","k":16,"x":11.880,"y":-0.2424},{"group":"RI","poly":"r3big","k":17,"x":11.819,"y":-0.2552},{"group":"RI","poly":"r3big","k":18,"x":11.765,"y":-0.2583},{"group":"RI","poly":"r3big","k":19,"x":11.704,"y":-0.2545},{"group":"RI","poly":"r3big","k":20,"x":11.638,"y":-0.2413},{"group":"RI","poly":"r3big","k":21,"x":11.584,"y":-0.2225},{"group":"RI","poly":"r3big","k":22,"x":11.518,"y":-0.1949},{"group":"RI","poly":"r3big","k":23,"x":11.463,"y":-0.1728},{"group":"RI","poly":"r3big","k":24,"x":11.419,"y":-0.1585},{"group":"RI","poly":"r3big","k":25,"x":11.364,"y":-0.1474},{"group":"RI","poly":"r3big","k":26,"x":11.326,"y":-0.1342},{"group":"RI","poly":"r3big","k":27,"x":11.293,"y":-0.1187},{"group":"RI","poly":"r3big","k":28,"x":11.282,"y":-0.1000}
]},
"resolve": {"axis": {"x": "independent", "y": "independent"}},
"layer": [
  {
    "data": {"values": [{"y": 0}]},
    "mark": {"type": "rule", "color": "#d3d3d3", "strokeWidth": 4, "strokeDash": [14.8, 6.4]},
    "encoding": {"y": {"field": "y", "type": "quantitative", "scale": {"domain": [-0.4, 0.2], "nice": false, "zero": false}, "axis": null}}
  },
  {
    "transform": [{"filter": "datum.group == 'GO'"}],
    "mark": {"type": "line", "interpolate": "linear-closed", "fill": "black", "fillOpacity": 0.1, "stroke": "black", "strokeOpacity": 0.6, "strokeWidth": 1, "strokeDash": [1.5, 1.5], "clip": true},
    "encoding": {
      "x": {"field": "x", "type": "quantitative", "scale": {"domain": [6.9, 12], "nice": false, "zero": false},
        "axis": {"orient": "bottom", "values": [7, 8, 9, 10, 11, 12], "format": "d", "tickSize": -18, "labelPadding": 28, "title": "Observed energy (keV)", "titlePadding": 6}},
      "y": {"field": "y", "type": "quantitative", "scale": {"domain": [-0.4, 0.2], "nice": false, "zero": false},
        "axis": {"orient": "left", "values": [-0.4, -0.3, -0.2, -0.1, 0, 0.1], "labelExpr": "abs(datum.value) < 1e-9 ? '0' : (datum.value < 0 ? '-' + format(-datum.value, '.1f') : format(datum.value, '.1f'))", "tickSize": -18, "labelPadding": 33, "title": "Normalization (x10⁻⁴)", "titlePadding": 15}},
      "detail": {"field": "poly"},
      "order": {"field": "k"}
    }
  },
  {
    "transform": [{"filter": "datum.group == 'GM'"}],
    "mark": {"type": "line", "interpolate": "linear-closed", "fill": "black", "fillOpacity": 0.111, "stroke": "black", "strokeOpacity": 0.85, "strokeWidth": 1.2, "strokeDash": [4.5, 2.5], "clip": true},
    "encoding": {
      "x": {"field": "x", "type": "quantitative", "scale": {"domain": [6.9, 12], "nice": false, "zero": false},
        "axis": {"orient": "top", "values": [7, 8, 9, 10, 11, 12], "labels": false, "tickSize": -18, "title": null}},
      "y": {"field": "y", "type": "quantitative", "scale": {"domain": [-0.4, 0.2], "nice": false, "zero": false},
        "axis": {"orient": "right", "values": [-0.4, -0.3, -0.2, -0.1, 0, 0.1], "labels": false, "tickSize": -18, "title": null}},
      "detail": {"field": "poly"},
      "order": {"field": "k"}
    }
  },
  {
    "transform": [{"filter": "datum.group == 'GI'"}],
    "mark": {"type": "line", "interpolate": "linear-closed", "fill": "black", "fillOpacity": 0.25, "stroke": "black", "strokeWidth": 1.3, "clip": true},
    "encoding": {
      "x": {"field": "x", "type": "quantitative", "scale": {"domain": [6.9, 12], "nice": false, "zero": false},
        "axis": {"orient": "bottom", "values": [7.2, 7.4, 7.6, 7.8, 8.2, 8.4, 8.6, 8.8, 9.2, 9.4, 9.6, 9.8, 10.2, 10.4, 10.6, 10.8, 11.2, 11.4, 11.6, 11.8], "labels": false, "domain": false, "tickSize": -12, "title": null}},
      "y": {"field": "y", "type": "quantitative", "scale": {"domain": [-0.4, 0.2], "nice": false, "zero": false}, "axis": null},
      "detail": {"field": "poly"},
      "order": {"field": "k"}
    }
  },
  {
    "transform": [{"filter": "datum.group == 'RO'"}],
    "mark": {"type": "line", "interpolate": "linear-closed", "fill": "red", "fillOpacity": 0.12, "stroke": "red", "strokeOpacity": 0.6, "strokeWidth": 1, "strokeDash": [1.5, 1.5], "clip": true},
    "encoding": {
      "x": {"field": "x", "type": "quantitative", "scale": {"domain": [6.9, 12], "nice": false, "zero": false},
        "axis": {"orient": "top", "values": [7.2, 7.4, 7.6, 7.8, 8.2, 8.4, 8.6, 8.8, 9.2, 9.4, 9.6, 9.8, 10.2, 10.4, 10.6, 10.8, 11.2, 11.4, 11.6, 11.8], "labels": false, "domain": false, "tickSize": -12, "title": null}},
      "y": {"field": "y", "type": "quantitative", "scale": {"domain": [-0.4, 0.2], "nice": false, "zero": false}, "axis": null},
      "detail": {"field": "poly"},
      "order": {"field": "k"}
    }
  },
  {
    "transform": [{"filter": "datum.group == 'RM'"}],
    "mark": {"type": "line", "interpolate": "linear-closed", "fill": "red", "fillOpacity": 0.1, "stroke": "red", "strokeOpacity": 0.9, "strokeWidth": 1.2, "strokeDash": [4.5, 2.5], "clip": true},
    "encoding": {
      "x": {"field": "x", "type": "quantitative", "scale": {"domain": [6.9, 12], "nice": false, "zero": false}, "axis": null},
      "y": {"field": "y", "type": "quantitative", "scale": {"domain": [-0.4, 0.2], "nice": false, "zero": false}, "axis": null},
      "detail": {"field": "poly"},
      "order": {"field": "k"}
    }
  },
  {
    "transform": [{"filter": "datum.group == 'RI'"}],
    "mark": {"type": "line", "interpolate": "linear-closed", "fill": "red", "fillOpacity": 0.28, "stroke": "red", "strokeWidth": 1.3, "clip": true},
    "encoding": {
      "x": {"field": "x", "type": "quantitative", "scale": {"domain": [6.9, 12], "nice": false, "zero": false}, "axis": null},
      "y": {"field": "y", "type": "quantitative", "scale": {"domain": [-0.4, 0.2], "nice": false, "zero": false}, "axis": null},
      "detail": {"field": "poly"},
      "order": {"field": "k"}
    }
  }
]
}
